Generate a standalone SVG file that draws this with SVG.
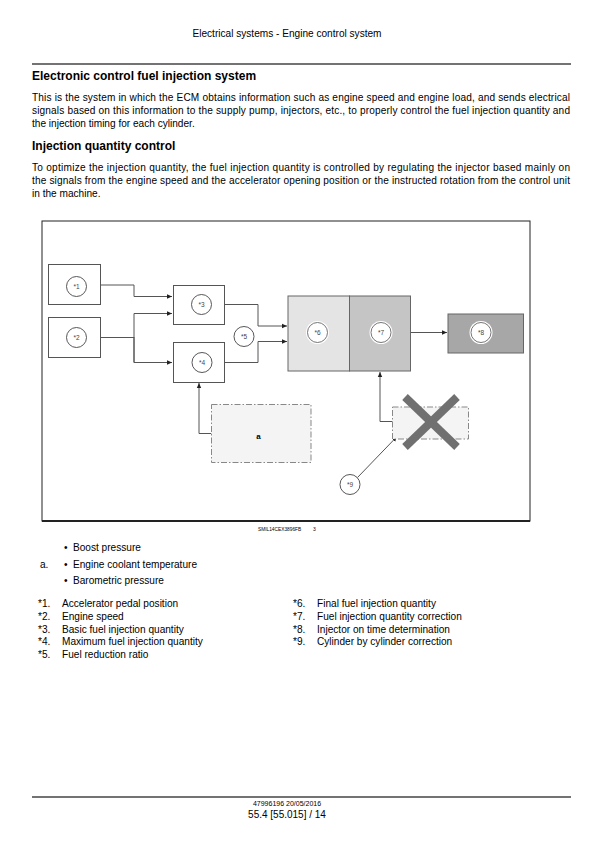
<svg xmlns="http://www.w3.org/2000/svg" width="596" height="842" viewBox="0 0 596 842">
<style>
text{font-family:"Liberation Sans",Arial,sans-serif;fill:#000}
.hdr{font-size:10.1px}
.h1{font-size:12px;font-weight:bold}
.p{font-size:10.1px}
.lst{font-size:10.1px}
.box{fill:#fff;stroke:#555;stroke-width:1}
.cir{fill:#fff;stroke:#444;stroke-width:0.9}
.lbl{font-size:6.5px;fill:#444;text-anchor:middle}
.con{fill:none;stroke:#555;stroke-width:1}
.dash{fill:#f4f4f4;stroke:#888;stroke-width:1;stroke-dasharray:6 2 1.5 2}
.rule{stroke:#444;stroke-width:1.5}
</style>
<defs>
<marker id="arr" markerWidth="6" markerHeight="6" refX="5" refY="3" orient="auto" markerUnits="userSpaceOnUse">
<path d="M0,0.8 L5,3 L0,5.2 Z" fill="#222"/>
</marker>
</defs>
<rect width="596" height="842" fill="#fff"/>

<text class="hdr" x="287" y="37" text-anchor="middle">Electrical systems - Engine control system</text>
<line class="rule" x1="32" y1="64" x2="571" y2="64"/>

<text class="h1" x="32" y="80">Electronic control fuel injection system</text>
<text class="p" x="32" y="101" textLength="538" lengthAdjust="spacing">This is the system in which the ECM obtains information such as engine speed and engine load, and sends electrical</text>
<text class="p" x="32" y="114" textLength="538" lengthAdjust="spacing">signals based on this information to the supply pump, injectors, etc., to properly control the fuel injection quantity and</text>
<text class="p" x="32" y="127">the injection timing for each cylinder.</text>

<text class="h1" x="32" y="150">Injection quantity control</text>
<text class="p" x="32" y="171" textLength="538" lengthAdjust="spacing">To optimize the injection quantity, the fuel injection quantity is controlled by regulating the injector based mainly on</text>
<text class="p" x="32" y="184" textLength="538" lengthAdjust="spacing">the signals from the engine speed and the accelerator opening position or the instructed rotation from the control unit</text>
<text class="p" x="32" y="197">in the machine.</text>

<rect x="42" y="221" width="488" height="300" fill="none" stroke="#222" stroke-width="1"/>
<line x1="42" y1="521" x2="530" y2="521" stroke="#222" stroke-width="1.8"/>

<g id="connectors">
<polyline class="con" points="100,285 134,285 134,296.5 172,296.5" marker-end="url(#arr)"/>
<polyline class="con" points="100,337.5 134,337.5"/>
<polyline class="con" points="134,362.5 134,313.5 172,313.5" marker-end="url(#arr)"/>
<polyline class="con" points="134,337 134,362.5 172,362.5" marker-end="url(#arr)"/>
<polyline class="con" points="224,304.5 258,304.5 258,326 287,326" marker-end="url(#arr)"/>
<polyline class="con" points="224,362.5 258,362.5 258,341.5 287,341.5" marker-end="url(#arr)"/>
<line class="con" x1="411" y1="332.5" x2="447" y2="332.5" marker-end="url(#arr)"/>
<polyline class="con" points="211.5,433.5 199,433.5 199,383" marker-end="url(#arr)"/>
<polyline class="con" points="392.5,421.5 380,421.5 380,372" marker-end="url(#arr)"/>
<line class="con" x1="357.5" y1="477.5" x2="397" y2="436.5" marker-end="url(#arr)"/>
</g>

<g id="n1">
<rect class="box" x="48.5" y="264.5" width="52" height="40"/>
<circle class="cir" cx="76.5" cy="286.5" r="10"/>
<text class="lbl" x="76.5" y="288.8">*1</text>
</g>
<g id="n2">
<rect class="box" x="48.5" y="317.5" width="52" height="40"/>
<circle class="cir" cx="76.5" cy="337.5" r="10"/>
<text class="lbl" x="76.5" y="339.8">*2</text>
</g>
<g id="n3">
<rect class="box" x="173.5" y="285.5" width="51" height="39"/>
<circle class="cir" cx="201.5" cy="304.5" r="10"/>
<text class="lbl" x="201.5" y="306.8">*3</text>
</g>
<g id="n4">
<rect class="box" x="173.5" y="342.5" width="51" height="40"/>
<circle class="cir" cx="202" cy="362.5" r="10"/>
<text class="lbl" x="202" y="364.8">*4</text>
</g>
<g id="n5">
<circle class="cir" cx="244" cy="336.5" r="10"/>
<text class="lbl" x="244" y="338.8">*5</text>
</g>
<g id="n6">
<rect x="288" y="296" width="61.5" height="75" fill="#e4e4e4" stroke="#666" stroke-width="1"/>
<circle cx="317.5" cy="332.5" r="11.5" fill="#fff"/>
<circle cx="317.5" cy="332.5" r="10" fill="#fff" stroke="#666" stroke-width="0.9"/>
<text class="lbl" x="317.5" y="334.8">*6</text>
</g>
<g id="n7">
<rect x="349.5" y="296" width="61" height="75" fill="#c5c5c5" stroke="#666" stroke-width="1"/>
<circle cx="381" cy="332.5" r="11.5" fill="#fff"/>
<circle cx="381" cy="332.5" r="10" fill="#fff" stroke="#666" stroke-width="0.9"/>
<text class="lbl" x="381" y="334.8">*7</text>
</g>
<g id="n8">
<rect x="448" y="314" width="75.5" height="39" fill="#a7a7a7" stroke="#666" stroke-width="1"/>
<circle cx="481" cy="332.5" r="11.5" fill="#fff"/>
<circle cx="481" cy="332.5" r="10" fill="#fff" stroke="#666" stroke-width="0.9"/>
<text class="lbl" x="481" y="334.8">*8</text>
</g>
<g id="na">
<rect class="dash" x="211.5" y="404.5" width="99.5" height="58"/>
<text x="258.5" y="438.5" font-size="8" font-weight="bold" text-anchor="middle" fill="#333">a</text>
</g>
<g id="nx">
<rect class="dash" x="392.5" y="407" width="76" height="32"/>
<line x1="405" y1="397" x2="457" y2="447" stroke="#707070" stroke-width="8"/>
<line x1="457" y1="397" x2="405" y2="447" stroke="#707070" stroke-width="8"/>
</g>
<g id="n9">
<circle class="cir" cx="350" cy="484.5" r="10"/>
<text class="lbl" x="350" y="486.8">*9</text>
</g>

<text x="258" y="531" font-size="4.8" fill="#333">SMIL14CEX3896FB</text>
<text x="313" y="531" font-size="5" fill="#333">3</text>

<g>
<text class="lst" x="64" y="551">•</text>
<text class="lst" x="73" y="551">Boost pressure</text>
<text class="lst" x="40" y="568">a.</text>
<text class="lst" x="64" y="568">•</text>
<text class="lst" x="73" y="568">Engine coolant temperature</text>
<text class="lst" x="64" y="584">•</text>
<text class="lst" x="73" y="584">Barometric pressure</text>

<text class="lst" x="38" y="607">*1.</text><text class="lst" x="62" y="607">Accelerator pedal position</text>
<text class="lst" x="38" y="620">*2.</text><text class="lst" x="62" y="620">Engine speed</text>
<text class="lst" x="38" y="633">*3.</text><text class="lst" x="62" y="633">Basic fuel injection quantity</text>
<text class="lst" x="38" y="645">*4.</text><text class="lst" x="62" y="645">Maximum fuel injection quantity</text>
<text class="lst" x="38" y="658">*5.</text><text class="lst" x="62" y="658">Fuel reduction ratio</text>

<text class="lst" x="293" y="607">*6.</text><text class="lst" x="317" y="607">Final fuel injection quantity</text>
<text class="lst" x="293" y="620">*7.</text><text class="lst" x="317" y="620">Fuel injection quantity correction</text>
<text class="lst" x="293" y="633">*8.</text><text class="lst" x="317" y="633">Injector on time determination</text>
<text class="lst" x="293" y="645">*9.</text><text class="lst" x="317" y="645">Cylinder by cylinder correction</text>
</g>

<line class="rule" x1="32" y1="797" x2="571" y2="797"/>
<text x="287" y="806" font-size="7" text-anchor="middle">47996196 20/05/2016</text>
<text x="287" y="818" font-size="10" text-anchor="middle">55.4 [55.015] / 14</text>
</svg>
